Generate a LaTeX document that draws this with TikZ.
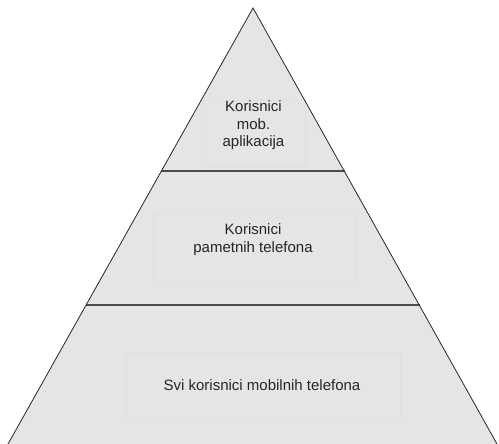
\documentclass[tikz,border=0pt]{standalone}
\usepackage{fontspec}
\setmainfont{Liberation Sans}
\begin{document}
\begin{tikzpicture}[x=1pt,y=-1pt,
  lbl/.style={align=center,text=black!85,font=\fontsize{15}{17.5}\selectfont},
  inbox/.style={draw=black!12,line width=0.6pt},
  divider/.style={draw=black!70,line width=1.3pt},
  side/.style={draw=black!85,line width=0.8pt}]
\useasboundingbox (0,0) rectangle (499,444);
\coordinate (apex) at (253,8);
\coordinate (bl) at (8,444);
\coordinate (br) at (497,444);
\fill[black!10] (apex) -- (bl) -- (br) -- cycle;
\draw[inbox] (202,100) rectangle (305,167);
\draw[inbox] (153,214) rectangle (355,283);
\draw[inbox] (126,352) rectangle (400,420);
\coordinate (d1l) at (161.4,171);
\coordinate (d1r) at (344.6,171);
\coordinate (d2l) at (86,305);
\coordinate (d2r) at (420,305);
\draw[divider] (d1l) -- (d1r);
\draw[divider] (d2l) -- (d2r);
\draw[side] (bl) -- (apex) -- (br);
\node[lbl] (t1) at (253.5,125.5) {Korisnici\\mob.\\aplikacija};
\node[lbl] (t2) at (253,239.5) {Korisnici\\pametnih telefona};
\node[lbl] (t3) at (262,385) {Svi korisnici mobilnih telefona};
\end{tikzpicture}
\end{document}
